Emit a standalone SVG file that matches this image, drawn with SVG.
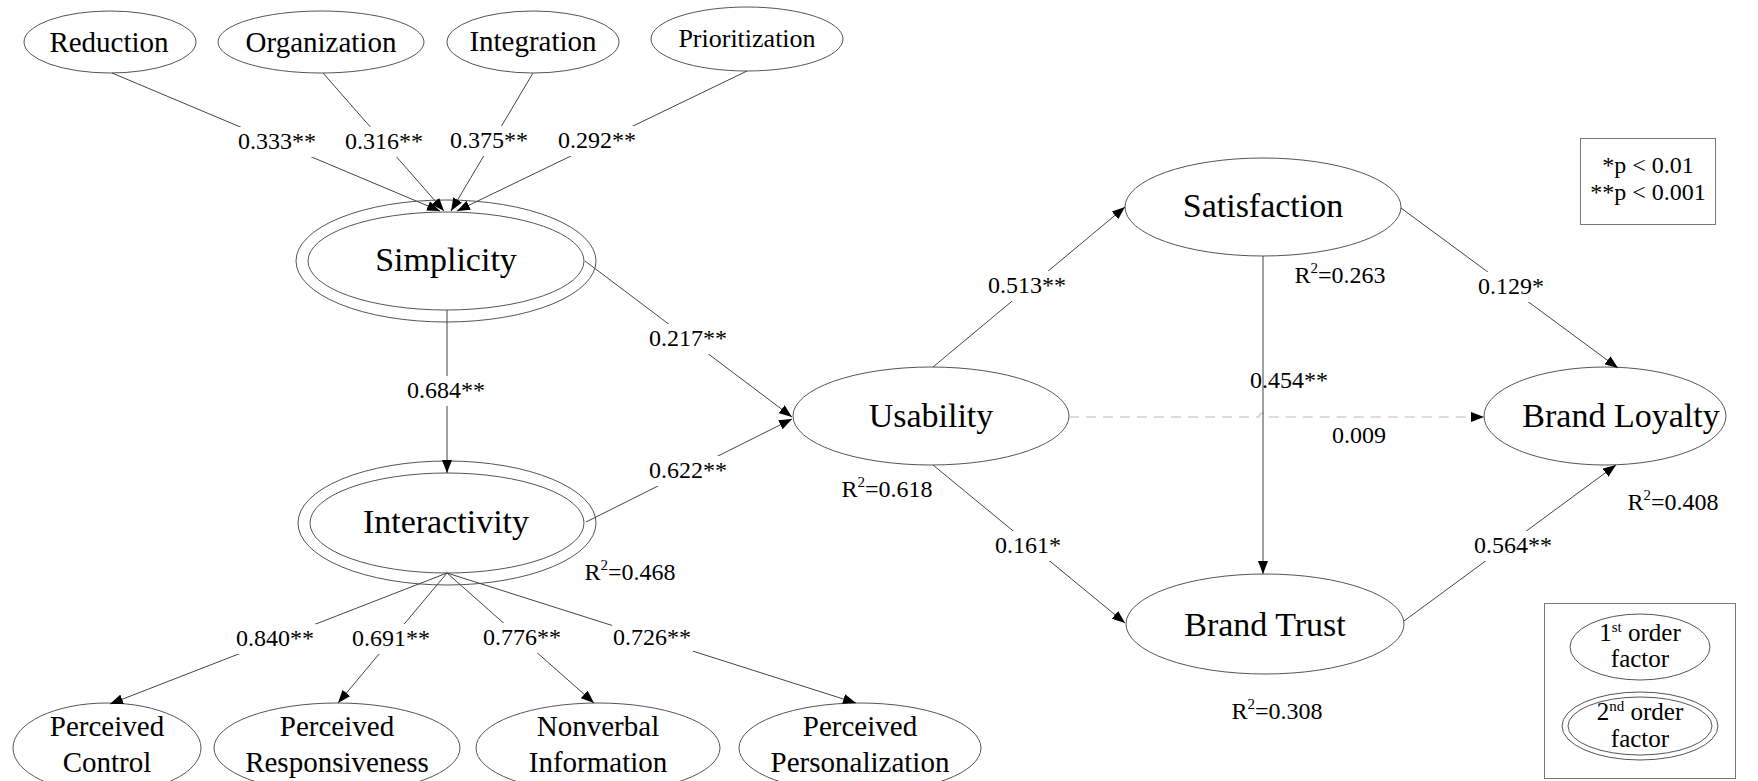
<svg xmlns="http://www.w3.org/2000/svg" width="1758" height="781" viewBox="0 0 1758 781">
<style>
text{font-family:"Liberation Serif","Times New Roman",serif;fill:#000;text-anchor:middle}
.n{fill:#fff;stroke:#555;stroke-width:1}
.big{font-size:34px}
.mid{font-size:29px}
.lb{font-size:24px}
.lg{font-size:25px}
.e{fill:none;stroke:#444;stroke-width:1}
.d{fill:none;stroke:#bbb;stroke-width:1.2;stroke-dasharray:10 7}
.bg{fill:#fff;stroke:none}
.box{fill:#fff;stroke:#777;stroke-width:1}
</style>
<defs>
<marker id="ah" markerUnits="userSpaceOnUse" markerWidth="13" markerHeight="10" refX="13" refY="5" orient="auto">
<path d="M0,0 L13,5 L0,10 z" fill="#000"/>
</marker>
</defs>
<rect width="1758" height="781" fill="#fff"/>

<g id="reduction"><ellipse class="n" cx="110" cy="42" rx="86" ry="31"/><text class="mid" x="109" y="52">Reduction</text></g>
<g id="organization"><ellipse class="n" cx="321" cy="42" rx="103" ry="31"/><text class="mid" x="321" y="52">Organization</text></g>
<g id="integration"><ellipse class="n" cx="533" cy="42" rx="86" ry="31"/><text class="mid" x="533" y="51">Integration</text></g>
<g id="prioritization"><ellipse class="n" cx="747" cy="39" rx="96" ry="32"/><text x="747" y="47" font-size="26">Prioritization</text></g>

<g id="simplicity"><ellipse class="n" cx="446" cy="261" rx="150" ry="61"/><ellipse class="n" cx="446" cy="261" rx="138" ry="49"/><text class="big" x="446" y="271">Simplicity</text></g>
<g id="interactivity"><ellipse class="n" cx="447" cy="523" rx="149" ry="62"/><ellipse class="n" cx="447" cy="523" rx="137" ry="50"/><text class="big" x="446" y="533">Interactivity</text></g>

<g id="usability"><ellipse class="n" cx="931" cy="416" rx="138" ry="49"/><text class="big" x="931" y="427">Usability</text></g>
<g id="satisfaction"><ellipse class="n" cx="1263" cy="207" rx="138" ry="49"/><text class="big" x="1263" y="217">Satisfaction</text></g>
<g id="brand-loyalty"><ellipse class="n" cx="1605" cy="416" rx="121" ry="49"/><text class="big" x="1621" y="427">Brand Loyalty</text></g>
<g id="brand-trust"><ellipse class="n" cx="1265" cy="624" rx="139" ry="50"/><text class="big" x="1265" y="636">Brand Trust</text></g>

<g id="perceived-control"><ellipse class="n" cx="107" cy="748" rx="94" ry="45"/><text class="mid" x="107" y="736">Perceived</text><text class="mid" x="107" y="772">Control</text></g>
<g id="perceived-responsiveness"><ellipse class="n" cx="337" cy="748" rx="123" ry="45"/><text class="mid" x="337" y="736">Perceived</text><text class="mid" x="337" y="772">Responsiveness</text></g>
<g id="nonverbal-information"><ellipse class="n" cx="598" cy="748" rx="122" ry="45"/><text class="mid" x="598" y="736">Nonverbal</text><text class="mid" x="598" y="772">Information</text></g>
<g id="perceived-personalization"><ellipse class="n" cx="860" cy="748" rx="121" ry="45"/><text class="mid" x="860" y="736">Perceived</text><text class="mid" x="860" y="772">Personalization</text></g>

<g id="connectors">
<line class="e" x1="112" y1="73" x2="440" y2="211" marker-end="url(#ah)"/>
<line class="e" x1="323" y1="73" x2="444" y2="211" marker-end="url(#ah)"/>
<line class="e" x1="533" y1="73" x2="451" y2="211" marker-end="url(#ah)"/>
<line class="e" x1="747" y1="71" x2="457" y2="211" marker-end="url(#ah)"/>
<line class="e" x1="447" y1="310" x2="447" y2="473" marker-end="url(#ah)"/>
<line class="e" x1="585" y1="261" x2="792" y2="417" marker-end="url(#ah)"/>
<line class="e" x1="586" y1="522" x2="792" y2="419" marker-end="url(#ah)"/>
<line class="e" x1="933" y1="367" x2="1125" y2="207" marker-end="url(#ah)"/>
<line class="e" x1="933" y1="465" x2="1125" y2="623" marker-end="url(#ah)"/>
<path class="d" d="M1069,417 H1259 A4,4 0 0 1 1267,417 H1484" marker-end="url(#ah)"/>
<line class="e" x1="1263" y1="256" x2="1263" y2="574" marker-end="url(#ah)"/>
<line class="e" x1="1401" y1="208" x2="1618" y2="368" marker-end="url(#ah)"/>
<line class="e" x1="1404" y1="621" x2="1616" y2="465" marker-end="url(#ah)"/>
<line class="e" x1="447" y1="573" x2="110" y2="704" marker-end="url(#ah)"/>
<line class="e" x1="447" y1="573" x2="338" y2="703" marker-end="url(#ah)"/>
<line class="e" x1="447" y1="573" x2="594" y2="703" marker-end="url(#ah)"/>
<line class="e" x1="447" y1="573" x2="856" y2="703" marker-end="url(#ah)"/>

<rect class="bg" x="237" y="127" width="80" height="30"/><text class="lb" x="277" y="149">0.333**</text>
<rect class="bg" x="344" y="127" width="80" height="30"/><text class="lb" x="384" y="149">0.316**</text>
<rect class="bg" x="449" y="126" width="80" height="30"/><text class="lb" x="489" y="148">0.375**</text>
<rect class="bg" x="557" y="126" width="80" height="30"/><text class="lb" x="597" y="148">0.292**</text>
<rect class="bg" x="406" y="376" width="80" height="30"/><text class="lb" x="446" y="398">0.684**</text>
<rect class="bg" x="648" y="324" width="80" height="30"/><text class="lb" x="688" y="346">0.217**</text>
<rect class="bg" x="648" y="456" width="80" height="30"/><text class="lb" x="688" y="478">0.622**</text>
<rect class="bg" x="987" y="271" width="81" height="30"/><text class="lb" x="1027" y="293">0.513**</text>
<rect class="bg" x="994" y="531" width="68" height="30"/><text class="lb" x="1028" y="553">0.161*</text>
<rect class="bg" x="1477" y="272" width="68" height="30"/><text class="lb" x="1511" y="294">0.129*</text>
<rect class="bg" x="1473" y="531" width="80" height="30"/><text class="lb" x="1513" y="553">0.564**</text>
<rect class="bg" x="235" y="624" width="81" height="30"/><text class="lb" x="275" y="646">0.840**</text>
<rect class="bg" x="351" y="624" width="80" height="30"/><text class="lb" x="391" y="646">0.691**</text>
<rect class="bg" x="482" y="623" width="80" height="30"/><text class="lb" x="522" y="645">0.776**</text>
<rect class="bg" x="612" y="623" width="81" height="30"/><text class="lb" x="652" y="645">0.726**</text>
<text class="lb" x="1289" y="388">0.454**</text>
<text class="lb" x="1359" y="443">0.009</text>
</g>

<g id="r2-labels">
<text class="lb" x="630" y="580">R<tspan dy="-10" font-size="15">2</tspan><tspan dy="10">=0.468</tspan></text>
<text class="lb" x="887" y="497">R<tspan dy="-10" font-size="15">2</tspan><tspan dy="10">=0.618</tspan></text>
<text class="lb" x="1340" y="283">R<tspan dy="-10" font-size="15">2</tspan><tspan dy="10">=0.263</tspan></text>
<text class="lb" x="1673" y="510">R<tspan dy="-10" font-size="15">2</tspan><tspan dy="10">=0.408</tspan></text>
<text class="lb" x="1277" y="719">R<tspan dy="-10" font-size="15">2</tspan><tspan dy="10">=0.308</tspan></text>
</g>

<g id="legend-p">
<rect class="box" x="1580.5" y="138.5" width="135" height="86"/>
<text class="lb" x="1648" y="173">*p &lt; 0.01</text>
<text class="lb" x="1648" y="200">**p &lt; 0.001</text>
</g>

<g id="legend-factor">
<rect class="box" x="1544.5" y="603.5" width="191" height="175"/>
<ellipse class="n" cx="1640" cy="647" rx="70" ry="33"/>
<text class="lg" x="1640" y="641">1<tspan dy="-9" font-size="15">st</tspan><tspan dy="9"> order</tspan></text>
<text class="lg" x="1640" y="667">factor</text>
<ellipse class="n" cx="1640" cy="726" rx="78" ry="34"/>
<ellipse class="n" cx="1640" cy="726" rx="72" ry="29"/>
<text class="lg" x="1640" y="720">2<tspan dy="-9" font-size="15">nd</tspan><tspan dy="9"> order</tspan></text>
<text class="lg" x="1640" y="747">factor</text>
</g>
</svg>
